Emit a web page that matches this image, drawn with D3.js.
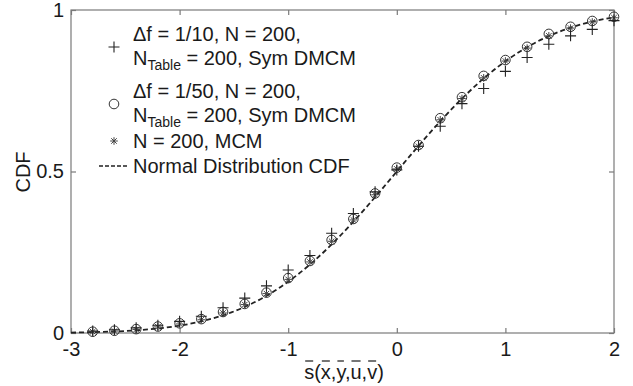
<!DOCTYPE html>
<html><head><meta charset="utf-8">
<script src="https://cdn.jsdelivr.net/npm/d3@7"></script>
<style>body{margin:0;background:#fff;} svg{display:block;font-family:"Liberation Sans",Arial,sans-serif;}</style>
</head><body>
<svg id="c" width="633" height="386"></svg>
<script>
// ---- data ----
const xPts = [-2.8,-2.6,-2.4,-2.2,-2.0,-1.8,-1.6,-1.4,-1.2,-1.0,-0.8,-0.6,-0.4,-0.2,0.0,0.2,0.4,0.6,0.8,1.0,1.2,1.4,1.6,1.8,2.0];
const plus10 = [0.006,0.010,0.016,0.024,0.036,0.052,0.078,0.108,0.146,0.195,0.240,0.309,0.370,0.437,0.505,0.578,0.640,0.710,0.757,0.810,0.853,0.894,0.920,0.940,0.967];
const circ50 = [0.004,0.007,0.012,0.020,0.030,0.043,0.065,0.090,0.125,0.170,0.223,0.288,0.353,0.432,0.512,0.582,0.665,0.730,0.796,0.845,0.886,0.926,0.948,0.966,0.979];
const starMCM = [0.004,0.006,0.011,0.019,0.028,0.041,0.062,0.088,0.122,0.166,0.220,0.284,0.350,0.428,0.508,0.578,0.660,0.726,0.790,0.842,0.882,0.920,0.944,0.963,0.976];
const xCurve = [-3.0,-2.8,-2.6,-2.4,-2.2,-2.0,-1.8,-1.6,-1.4,-1.2,-1.0,-0.8,-0.6,-0.4,-0.2,0.0,0.2,0.4,0.6,0.8,1.0,1.2,1.4,1.6,1.8,2.0];
const yCurve = [0.0013,0.0026,0.0047,0.0082,0.0139,0.0228,0.0359,0.0548,0.0808,0.1151,0.1587,0.2119,0.2743,0.3446,0.4207,0.5,0.5793,0.6554,0.7257,0.7881,0.8413,0.8849,0.9192,0.9452,0.9641,0.9772];
const xTicks = [-3,-2,-1,0,1,2];
const xTickLabels = ["-3","-2","-1","0","1","2"];
const yTicks = [0,0.5,1];
const yTickLabels = ["0","0.5","1"];
const legendLabels = [["Δf = 1/10, N = 200,","= 200, Sym DMCM"],["Δf = 1/50, N = 200,","= 200, Sym DMCM"],["N = 200, MCM"],["Normal Distribution CDF"]];

const svg = d3.select("#c");
const L=71,R=614,T=10,B=333;
const FS=20;
const x = d3.scaleLinear().domain([-3,2]).range([L,R]);
const y = d3.scaleLinear().domain([0,1]).range([B,T]);
const axisCol="#7a7a7a", txt="#1a1a1a", mk="#333";

// axes
const gx = svg.append("g").attr("transform",`translate(0,${B})`)
  .call(d3.axisBottom(x).tickValues(xTicks).tickSize(-5).tickPadding(9).tickFormat((d,i)=>xTickLabels[i]));
const gxt = svg.append("g").attr("transform",`translate(0,${T})`)
  .call(d3.axisTop(x).tickValues(xTicks).tickSize(-5).tickFormat(""));
const gy = svg.append("g").attr("transform",`translate(${L},0)`)
  .call(d3.axisLeft(y).tickValues(yTicks).tickSize(-5).tickPadding(7).tickFormat((d,i)=>yTickLabels[i]));
const gyr = svg.append("g").attr("transform",`translate(${R},0)`)
  .call(d3.axisRight(y).tickValues(yTicks).tickSize(-5).tickFormat(""));
[gx,gxt,gy,gyr].forEach(g=>{
  g.selectAll(".domain").remove();
  g.selectAll(".tick line").attr("stroke",axisCol).attr("stroke-width",1.2);
  g.selectAll(".tick text").attr("fill",txt).attr("font-size",FS).attr("font-family","Liberation Sans, Arial, sans-serif");
});
svg.append("rect").attr("x",L).attr("y",T).attr("width",R-L).attr("height",B-T)
  .attr("fill","none").attr("stroke",axisCol).attr("stroke-width",1.2);

// curve
svg.append("path").datum(xCurve.map((v,i)=>[v,yCurve[i]]))
  .attr("d",d3.line().x(d=>x(d[0])).y(d=>y(d[1])).curve(d3.curveMonotoneX))
  .attr("fill","none").attr("stroke","#222").attr("stroke-width",1.8).attr("stroke-dasharray","5,3");

function plusMark(g,cx,cy,s){g.append("path").attr("d",`M${cx-s},${cy}H${cx+s}M${cx},${cy-s}V${cy+s}`).attr("stroke","#222").attr("stroke-width",1.1).attr("fill","none");}
function circMark(g,cx,cy,r){g.append("circle").attr("cx",cx).attr("cy",cy).attr("r",r).attr("fill","none").attr("stroke",mk).attr("stroke-width",1);}
function starMark(g,cx,cy,s){const d=s*0.72;g.append("path").attr("d",`M${cx-s},${cy}H${cx+s}M${cx},${cy-s}V${cy+s}M${cx-d},${cy-d}L${cx+d},${cy+d}M${cx-d},${cy+d}L${cx+d},${cy-d}`).attr("stroke","#444").attr("stroke-width",1).attr("fill","none");}

const gm = svg.append("g");
xPts.forEach((v,i)=>starMark(gm,x(v),y(starMCM[i]),3.8));
xPts.forEach((v,i)=>circMark(gm,x(v),y(circ50[i]),4.8));
xPts.forEach((v,i)=>plusMark(gm,x(v),y(plus10[i]),5.5));

// legend
const lg = svg.append("g").attr("font-size",FS).attr("fill",txt);
function twoLine(y1,y2,l1,l2){
  lg.append("text").attr("x",133).attr("y",y1).text(l1);
  const t=lg.append("text").attr("x",133).attr("y",y2);
  t.append("tspan").text("N");
  t.append("tspan").attr("font-size",14).attr("dy",5).text("Table");
  t.append("tspan").attr("dy",-5).text(" "+l2);
}
twoLine(41,65,legendLabels[0][0],legendLabels[0][1]);
plusMark(svg,114,47,5.5);
twoLine(98,122,legendLabels[1][0],legendLabels[1][1]);
circMark(svg,114,104,4.8);
lg.append("text").attr("x",133).attr("y",148).text(legendLabels[2][0]);
starMark(svg,114,141,3.8);
lg.append("text").attr("x",133).attr("y",173).text(legendLabels[3][0]);
svg.append("line").attr("x1",99).attr("x2",128).attr("y1",166).attr("y2",166).attr("stroke","#222").attr("stroke-width",1.6).attr("stroke-dasharray","4,2");

// axis labels
svg.append("text").attr("transform","translate(30,172) rotate(-90)").attr("text-anchor","middle")
  .attr("font-size",FS).attr("fill",txt).text("CDF");
const xl = svg.append("text").attr("x",344).attr("y",379).attr("text-anchor","middle").attr("font-size",FS).attr("fill",txt).text("s(x,y,u,v)");
const node = xl.node();
[0,2,4,6,8].forEach(i=>{
  const e = node.getExtentOfChar(i);
  svg.append("line").attr("x1",e.x+1).attr("x2",e.x+e.width-1).attr("y1",361).attr("y2",361).attr("stroke",txt).attr("stroke-width",1.2);
});
</script>
</body></html>
